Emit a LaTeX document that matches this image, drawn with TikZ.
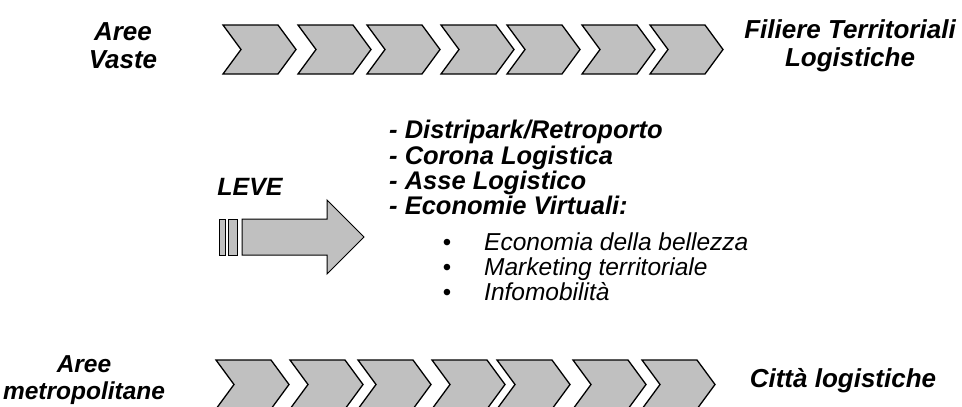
\documentclass[tikz,border=0pt]{standalone}
\usepackage{fontspec}
\setmainfont{Liberation Sans}
\usetikzlibrary{positioning}

\definecolor{chevgray}{RGB}{192,192,192}

\tikzset{
  chev/.style={draw, fill=chevgray, line width=1.3pt, line join=miter},
  lbl/.style={font=\fontsize{26}{28}\selectfont\bfseries\itshape, align=center},
  lever/.style={font=\fontsize{25.5}{26}\selectfont\bfseries\itshape, anchor=base west, inner sep=0pt},
  subitem/.style={font=\fontsize{24.5}{26}\selectfont\itshape, anchor=base west, inner sep=0pt},
  dot/.style={font=\fontsize{24}{24}\selectfont, anchor=base, inner sep=0pt},
}

\begin{document}
\begin{tikzpicture}[x=1pt, y=-1pt]
  \useasboundingbox (0,0) rectangle (962,407);

  % chevrons, top and bottom row
  \foreach \x in {223,298,367,441,507,582,650}
    \draw[chev] (\x,25) -- ++(55,0) -- ++(18,24.5) -- ++(-18,24.5)
      -- ++(-55,0) -- ++(18,-24.5) -- cycle;
  \foreach \x in {216,290,358,432,497,573,642}
    \draw[chev] (\x,360) -- ++(55,0) -- ++(18,24.5) -- ++(-18,24.5)
      -- ++(-55,0) -- ++(18,-24.5) -- cycle;

  \node[lbl] (vaste) at (123,46) {Aree\\Vaste};
  \node[lbl] (filiere) at (850,46) {Filiere Territoriali\\Logistiche};
  \node[lbl, font=\fontsize{24.5}{27}\selectfont\bfseries\itshape] (metro) at (84,380) {Aree\\metropolitane};
  \node[lbl] (citta) at (843,381) {Citt\`a logistiche};

  % leve
  \node[lbl, font=\fontsize{25}{28}\selectfont\bfseries\itshape] (leve) at (250,187) {LEVE};
  \draw[fill=chevgray, line width=1pt] (219,219) rectangle (225,255);
  \draw[fill=chevgray, line width=1pt] (228,219) rectangle (237,255);
  \draw[fill=chevgray, line width=1pt] (242,219) -- (327,219) -- (327,200)
    -- (364,237) -- (327,274) -- (327,255) -- (242,255) -- cycle;

  \node[lever] (l1) at (389,138) {- Distripark/Retroporto};
  \node[lever] (l2) at (389,164) {- Corona Logistica};
  \node[lever] (l3) at (389,189) {- Asse Logistico};
  \node[lever] (l4) at (389,214) {- Economie Virtuali:};

  \foreach \y/\txt [count=\i] in {250/Economia della bellezza,
      275/Marketing territoriale, 300/Infomobilit\`a} {
    \node[dot] (b\i) at (447,\y) {\textbullet};
    \node[subitem] (s\i) at (484,\y) {\txt};
  }
\end{tikzpicture}
\end{document}
